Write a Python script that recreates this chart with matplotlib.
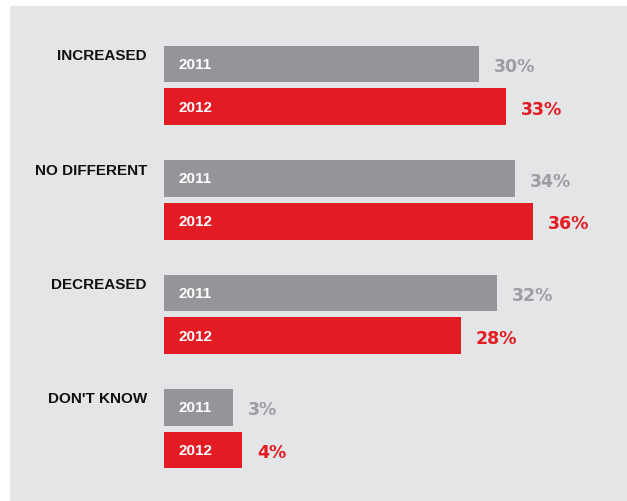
import matplotlib
matplotlib.use("Agg")
import matplotlib.pyplot as plt

# Survey answers, share of respondents (%)
categories = ["INCREASED", "NO DIFFERENT", "DECREASED", "DON'T KNOW"]
years = ["2011", "2012"]
values_2011 = [30, 34, 32, 3]
values_2012 = [33, 36, 28, 4]

GREY = "#939598"
GREY_TXT = "#9d9ea1"
RED = "#e31b23"
PANEL = "#e4e5e7"

W, H, DPI = 627, 502, 100
fig = plt.figure(figsize=(W / DPI, H / DPI), dpi=DPI, facecolor="white")

# Grey panel occupies the figure except a thin white margin top-left
px_left, px_top = 10, 7
ax = fig.add_axes([px_left / W, 0, (W - px_left) / W + 0.01, (H - px_top) / H])
ax.set_facecolor(PANEL)
for s in ax.spines.values():
    s.set_visible(False)
ax.set_xticks([])
ax.set_yticks([])

# horizontal scale: pixels per percent, and where zero sits
scale = 9.09
zero_px = 206.0
ax.set_xlim((px_left - zero_px) / scale, (W + 0.01 * W - zero_px) / scale)

group_px = 114.4
first_px = 86.4
ax.set_ylim((H - first_px) / group_px, (px_top - first_px) / group_px)

base = 42.3 / scale          # bars start a fixed stub left of zero
bar_h = 36.7 / group_px
off = 21.35 / group_px

series = [(values_2011, GREY, GREY_TXT, -off, years[0]),
          (values_2012, RED, RED, off, years[1])]

for vals, col, tcol, dy, yr in series:
    ys = [i + dy for i in range(len(categories))]
    widths = [v + base for v in vals]
    ax.barh(ys, widths, left=-base, height=bar_h, color=col, edgecolor="none")
    for y, v in zip(ys, vals):
        ax.annotate(yr, xy=(-base, y), xytext=(10.5, 0),
                    textcoords="offset points", ha="left", va="center",
                    color="white", fontsize=11, fontweight="bold",
                    family="Liberation Sans")
        ax.annotate(f"{v}%", xy=(v, y), xytext=(10.8, -1.5),
                    textcoords="offset points", ha="left", va="center",
                    color=tcol, fontsize=12.5, fontweight="bold",
                    family="DejaVu Sans")

label_x = (147 - zero_px) / scale
for i, cat in enumerate(categories):
    ax.text(label_x, i - off - bar_h / 2 + 2.5 / group_px, cat,
            ha="right", va="top", color="#111111", fontsize=11,
            fontweight="bold", family="Liberation Sans")

fig.savefig("out.png", dpi=DPI, facecolor="white")
